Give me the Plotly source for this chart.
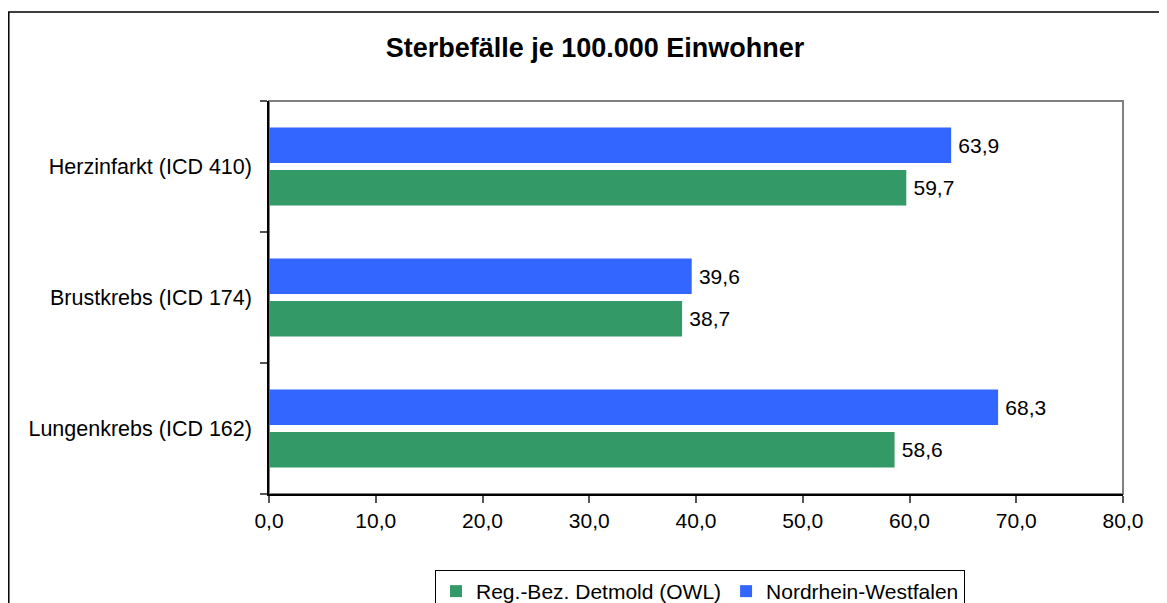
import plotly.graph_objects as go

# Daten (Sterbefälle je 100.000 Einwohner)
categories = ['Herzinfarkt (ICD 410)', 'Brustkrebs (ICD 174)', 'Lungenkrebs (ICD 162)']
owl_values = [59.7, 38.7, 58.6]
nrw_values = [63.9, 39.6, 68.3]
series_names = ['Reg.-Bez. Detmold (OWL)', 'Nordrhein-Westfalen']
x_ticks = [0, 10, 20, 30, 40, 50, 60, 70, 80]

FONT = 'Liberation Sans, Arial, sans-serif'

fig = go.Figure()

fig.add_trace(go.Bar(
    y=categories, x=owl_values, name=series_names[0], orientation='h',
    marker=dict(color='#339966', line=dict(width=0)),
    texttemplate='\u2009%{x:.1f}', textposition='outside',
    textfont=dict(size=21, color='black'), cliponaxis=False
))

fig.add_trace(go.Bar(
    y=categories, x=nrw_values, name=series_names[1], orientation='h',
    marker=dict(color='#3366FF', line=dict(width=0)),
    texttemplate='\u2009%{x:.1f}', textposition='outside',
    textfont=dict(size=21, color='black'), cliponaxis=False
))

# Seite hat 8px Rand; Plotbereich soll auf der Seite bei x 269-1123, y 101-494 liegen
fig.update_layout(
    width=1167, height=603,
    margin=dict(l=261, r=52, t=93, b=117),
    paper_bgcolor='white', plot_bgcolor='white',
    separators=',.',
    font=dict(family=FONT, size=21, color='black'),
    title=dict(
        text='<b>Sterbefälle je 100.000 Einwohner</b>',
        font=dict(size=27, family=FONT, color='black'),
        xref='paper', x=0.3817, xanchor='center',
        yref='container', y=0.9337, yanchor='middle'
    ),
    barmode='group', bargap=0.351, bargroupgap=0.165,
    showlegend=True,
    legend=dict(
        orientation='h', xref='paper', x=0.1944, xanchor='left',
        yref='container', y=0.068, yanchor='top',
        bordercolor='black', borderwidth=1, bgcolor='white',
        font=dict(size=21, family=FONT), itemwidth=30,
        traceorder='normal'
    ),
    xaxis=dict(
        range=[0, 80], tickvals=x_ticks, tickformat='.1f',
        showgrid=False, zeroline=False,
        showline=True, linecolor='black', linewidth=1.5,
        ticks='outside', ticklen=7, tickcolor='#555555', tickwidth=1.5,
        tickfont=dict(size=21)
    ),
    yaxis=dict(
        categoryorder='array', categoryarray=categories[::-1],
        showgrid=False, zeroline=False,
        showline=True, linecolor='black', linewidth=1.5,
        ticks='outside', tickson='boundaries', ticklen=7,
        tickcolor='#555555', tickwidth=1.5,
        ticklabelstandoff=11, tickfont=dict(size=21.5)
    ),
    shapes=[
        # grauer Rahmen des Plotbereichs
        dict(type='rect', xref='paper', yref='paper', x0=0, x1=1, y0=0, y1=1,
             line=dict(color='#808080', width=2), layer='below'),
        # äußerer Diagrammrahmen
        dict(type='rect', xref='paper', yref='paper',
             x0=-0.3047, x1=1.064, y0=-0.32, y1=1.2265,
             line=dict(color='black', width=1.5), layer='below'),
    ]
)

fig.write_html('out.html')
